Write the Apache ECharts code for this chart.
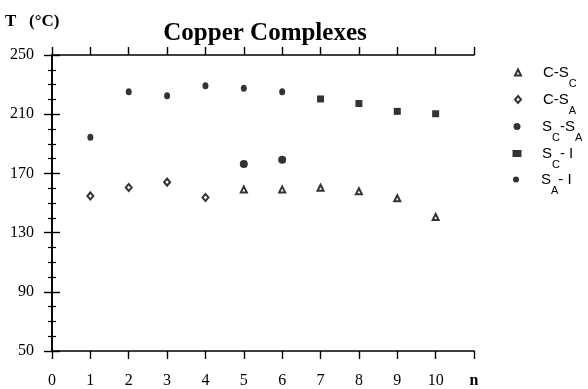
<!DOCTYPE html>
<html><head><meta charset="utf-8">
<script src="https://cdn.jsdelivr.net/npm/echarts@6/dist/echarts.min.js"></script>
<style>html,body{margin:0;padding:0;background:#fff}#c{width:588px;height:389px}</style>
</head><body><div id="c"></div>
<script>
// ---- data ----
const nValues = [0,1,2,3,4,5,6,7,8,9,10,11];
const xTickLabels = ['0','1','2','3','4','5','6','7','8','9','10','n'];
const yTickLabels = ['50','90','130','170','210','250'];
const cScN = [5,6,7,8,9,10];
const cScT = [159.2,159.2,160.3,157.9,153.2,140.5];
const cSaN = [1,2,3,4];
const cSaT = [154.8,160.5,164.1,153.7];
const scSaN = [5,6];
const scSaT = [176.3,179.2];
const scIN = [7,8,9,10];
const scIT = [220.3,217.2,211.9,210.3];
const saIN = [1,2,3,4,5,6];
const saIT = [194.5,225.2,222.5,229.2,227.5,225.2];
const seriesNames = ['C-S_C','C-S_A','S_C-S_A','S_C-I','S_A-I'];
const legendLabels = ['{m|C-S}{s|C}','{m|C-S}{s|A}','{m|S}{s|C}{m|-S}{s|A}','{m|S}{s|C}{m|- I}','{m|S}{s|A}{m|- I}'];
const titleText = 'Copper Complexes';
const yName = 'T   (°C)';

const zip = (a,b) => a.map((v,i)=>[v,b[i]]);
const serif = 'Liberation Serif';
const sans = 'Liberation Sans';

const chart = echarts.init(document.getElementById('c'), null, {renderer:'canvas'});

const yCommon = {
  type:'value', min:50, max:250, interval:40,
  axisLine:{show:true, lineStyle:{color:'#000', width:1.6}},
  axisTick:{show:true, inside:false, length:8, lineStyle:{color:'#000', width:1.4}},
  minorTick:{show:true, splitNumber:4, length:4, lineStyle:{color:'#000', width:1.2}},
  splitLine:{show:false}
};
const xCommon = {
  type:'value', min:0, max:11, interval:1,
  axisLine:{show:true, onZero:false, lineStyle:{color:'#000', width:1.6}},
  axisTick:{show:true, inside:false, length:8, lineStyle:{color:'#000', width:1.4}},
  splitLine:{show:false}
};

const symbols = [
  {symbol:'emptyTriangle', size:[6,6], lsize:[6,6]},
  {symbol:'emptyDiamond', size:[6,7], lsize:[6,7]},
  {symbol:'circle', size:[8,8], lsize:[7,8]},
  {symbol:'rect', size:[7,7], lsize:[9,7]},
  {symbol:'circle', size:[6,7], lsize:[8,6]}
];
const dataSets = [zip(cScN,cScT), zip(cSaN,cSaT), zip(scSaN,scSaT), zip(scIN,scIT), zip(saIN,saIT)];
const rowY = [71, 98, 125, 152, 178];

const series = seriesNames.map((name,i)=>({
  name, type:'scatter', xAxisIndex:0, yAxisIndex:0,
  symbol:symbols[i].symbol, symbolSize:symbols[i].size,
  itemStyle:{color:'#000', borderColor:'#000', borderWidth: i<2 ? 1.2 : 0},
  data:dataSets[i], z:5
}));

const legends = seriesNames.map((name,i)=>({
  data:[{name, icon:symbols[i].symbol}],
  orient:'vertical', left:517 - symbols[i].lsize[0]/2, top:rowY[i]-15,
  padding:0, itemWidth:symbols[i].lsize[0], itemHeight:symbols[i].lsize[1],
  itemGap:0, selectedMode:false,
  textStyle:{color:'#000', padding:[0,0,0,20 - symbols[i].lsize[0]/2],
    rich:{m:{fontFamily:sans, fontSize:15, lineHeight:16, color:'#000'},
          s:{fontFamily:sans, fontSize:11, lineHeight:12, color:'#000', padding:[22,0,0,0]}}},
  formatter: () => legendLabels[i]
}));

chart.setOption({
  animation:false,
  backgroundColor:'#fff',
  title:{text:titleText, left:260, textAlign:'center', top:16,
    textStyle:{fontFamily:serif, fontSize:25, fontWeight:'bold', color:'#000'}},
  graphic:[{type:'text', left:5, top:13, style:{text:yName, font:'bold 17px "Liberation Serif"', fill:'#000'}}],
  grid:{left:52, right:114, top:55, bottom:34, containLabel:false},
  xAxis:[
    Object.assign({}, xCommon, {position:'bottom',
      axisLabel:{show:true, margin:22, fontFamily:serif, fontSize:16, color:'#000',
        formatter:v => { const k = nValues.indexOf(v); return k<0 ? '' : (xTickLabels[k]==='n' ? '{b|n}' : xTickLabels[k]); },
        rich:{b:{fontFamily:serif, fontSize:16, fontWeight:'bold', color:'#000'}}}}),
    Object.assign({}, xCommon, {position:'top', axisLabel:{show:false}})
  ],
  yAxis:[
    Object.assign({}, yCommon, {position:'left',
      axisLabel:{show:true, margin:18, fontFamily:serif, fontSize:16, color:'#000',
        formatter:v => yTickLabels.includes(String(v)) ? String(v) : ''}}),
    Object.assign({}, yCommon, {position:'right', axisLabel:{show:false}})
  ],
  legend:legends,
  series
});
</script></body></html>
